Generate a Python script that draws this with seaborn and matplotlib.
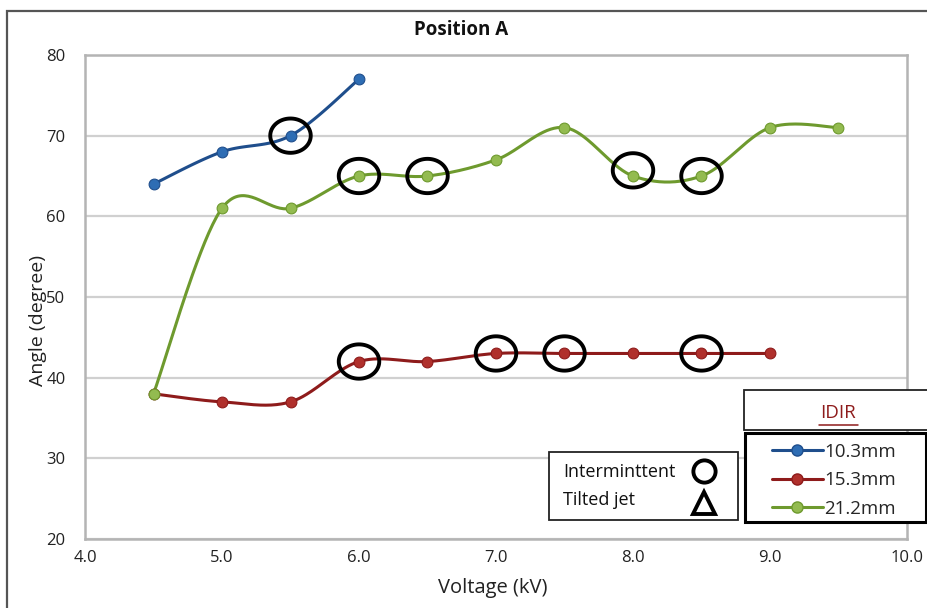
import numpy as np
import pandas as pd
import matplotlib
matplotlib.use("Agg")
import matplotlib.pyplot as plt
import seaborn as sns
from matplotlib.path import Path
from matplotlib.patches import Rectangle
from matplotlib.lines import Line2D
from matplotlib.markers import MarkerStyle

# ---------------- data ----------------
v_103 = [4.5, 5.0, 5.5, 6.0]
a_103 = [64, 68, 70, 77]
v_153 = [4.5, 5.0, 5.5, 6.0, 6.5, 7.0, 7.5, 8.0, 8.5, 9.0]
a_153 = [38, 37, 37, 42, 42, 43, 43, 43, 43, 43]
v_212 = [4.5, 5.0, 5.5, 6.0, 6.5, 7.0, 7.5, 8.0, 8.5, 9.0, 9.5]
a_212 = [38, 61, 61, 65, 65, 67, 71, 65, 65, 71, 71]
series_names = ["10.3mm", "15.3mm", "21.2mm"]
# intermittent markers (voltage, angle)
int_v = [5.5, 6.0, 6.5, 8.0, 8.5, 6.0, 7.0, 7.5, 8.5]
int_a = [70, 65, 65, 65.7, 65, 42, 43, 43, 43]
x_ticks = [4.0, 5.0, 6.0, 7.0, 8.0, 9.0, 10.0]
y_ticks = [20, 30, 40, 50, 60, 70, 80]

line_cols = ["#1F4E8C", "#8E1B1B", "#6E9A2E"]
mark_cols = ["#2E6DB4", "#B0302C", "#93BB50"]
edge_cols = ["#1F4E8C", "#8E1B1B", "#6E9A2E"]

sns.set_theme(style="white")
plt.rcParams["font.family"] = ["Open Sans", "DejaVu Sans"]

fig = plt.figure(figsize=(9.28, 6.08), dpi=100)
W, H = 928, 608
ax = fig.add_axes([85 / W, 1 - 539 / H, (907 - 85) / W, (539 - 55) / H])


def excel_smooth(x, y, n=40):
    x = np.asarray(x, float)
    y = np.asarray(y, float)
    P = np.column_stack([x, y])
    m = len(P)
    out = []
    for i in range(m - 1):
        p0 = P[i - 1] if i > 0 else P[i]
        p1 = P[i]
        p2 = P[i + 1]
        p3 = P[i + 2] if i + 2 < m else P[i + 1]
        c1 = p1 + (p2 - p0) / 6.0
        c2 = p2 - (p3 - p1) / 6.0
        t = np.linspace(0, 1, n)[:, None]
        seg = ((1 - t) ** 3) * p1 + 3 * ((1 - t) ** 2) * t * c1 + 3 * (1 - t) * t ** 2 * c2 + t ** 3 * p2
        out.append(seg if i == 0 else seg[1:])
    out = np.vstack(out)
    return out[:, 0], out[:, 1]


frames = []
for name, vx, vy in zip(series_names, [v_103, v_153, v_212], [a_103, a_153, a_212]):
    frames.append(pd.DataFrame({"Voltage": vx, "Angle": vy, "IDIR": name}))
df = pd.concat(frames, ignore_index=True)

for k, name in enumerate(series_names):
    sub = df[df.IDIR == name]
    sx, sy = excel_smooth(sub.Voltage.values, sub.Angle.values)
    ax.plot(sx, sy, color=line_cols[k], lw=2.2, zorder=3, solid_capstyle="round")
    sns.scatterplot(data=sub, x="Voltage", y="Angle", ax=ax, color=mark_cols[k],
                    edgecolor=edge_cols[k], linewidth=0.8, s=60, zorder=4, legend=False)

# ellipse marker for intermittent
th = np.linspace(0, 2 * np.pi, 80)
ell = Path(np.column_stack([1.18 * np.cos(th), np.sin(th)]), closed=True)
ax.scatter(int_v, int_a, marker=MarkerStyle(ell), s=850, facecolors="none",
           edgecolors="black", linewidths=2.8, zorder=5)

ax.set_xlim(4.0, 10.0)
ax.set_ylim(20, 80)
ax.set_xticks(x_ticks)
ax.set_yticks(y_ticks)
ax.set_xticklabels([f"{t:.1f}" for t in x_ticks], fontsize=12, color="#222222")
ax.set_yticklabels([str(t) for t in y_ticks], fontsize=12, color="#222222")
ax.tick_params(axis="x", pad=8, length=0)
ax.tick_params(axis="y", pad=14, length=0)
ax.grid(axis="y", color="#d0d0d0", lw=1.6)
ax.set_axisbelow(True)
for s in ax.spines.values():
    s.set_color("#b4b4b4")
    s.set_linewidth(1.8)
ax.set_xlabel("")
ax.set_ylabel("")

fig.text(493 / W, 1 - 588 / H, "Voltage (kV)", ha="center", va="center", fontsize=14.5, color="#222222")
fig.text(38 / W, 1 - 321 / H, "Angle (degree)", ha="center", va="center", rotation=90, fontsize=14, color="#222222")
fig.text(461 / W, 1 - 30 / H, "Position A", ha="center", va="center", fontsize=13.5, fontweight="bold", color="#111111")

# outer chart frame
fig.patches.append(Rectangle((7 / W, -0.1), 1.2, 1 - 11 / H + 0.1, transform=fig.transFigure,
                             fill=False, edgecolor="#555555", lw=1.6, zorder=0))

# IDIR title box
fig.patches.append(Rectangle((744 / W, 1 - 430 / H), 0.3, (430 - 390) / H, transform=fig.transFigure,
                             facecolor="white", edgecolor="#222222", lw=1.3, zorder=6))
fig.text(838 / W, 1 - 413 / H, "IDIR", ha="center", va="center", fontsize=13.5, color="#8E1B1B", zorder=7)
fig.add_artist(Line2D([819 / W, 858 / W], [1 - 425 / H, 1 - 425 / H], color="#8E1B1B", lw=1.1, zorder=7))

# series legend frame
fig.patches.append(Rectangle((745 / W, 1 - 522 / H), (926 - 745) / W, (522 - 433) / H,
                             transform=fig.transFigure, facecolor="white", edgecolor="black",
                             lw=2.2, zorder=6))
handles = [Line2D([0], [0], color=line_cols[k], lw=2.2, marker="o", markersize=8,
                  markerfacecolor=mark_cols[k], markeredgecolor=edge_cols[k]) for k in range(3)]
leg = fig.legend(handles, series_names, loc="upper left",
                 bbox_to_anchor=(772 / W, 1 - 443 / H), bbox_transform=fig.transFigure,
                 frameon=False, fontsize=13.5, handlelength=2.7,
                 handletextpad=0.1, borderpad=0.0, labelspacing=0.55, borderaxespad=0)
leg.set_zorder(8)

# intermittent / tilted box
fig.patches.append(Rectangle((549 / W, 1 - 520 / H), (738 - 549) / W, (520 - 452) / H,
                             transform=fig.transFigure, facecolor="white", edgecolor="#222222",
                             lw=1.3, zorder=6))
fig.text(563 / W, 1 - 472 / H, "Interminttent", ha="left", va="center", fontsize=13, color="#111111", zorder=7)
fig.text(563 / W, 1 - 500 / H, "Tilted jet", ha="left", va="center", fontsize=13, color="#111111", zorder=7)
fig.add_artist(Line2D([704 / W], [1 - 471 / H], marker="o", markersize=16, markerfacecolor="none",
                      markeredgecolor="black", markeredgewidth=2.8, zorder=7))
fig.add_artist(Line2D([704 / W], [1 - 503 / H], marker="^", markersize=16, markerfacecolor="none",
                      markeredgecolor="black", markeredgewidth=2.8, zorder=7))

fig.savefig("out.png", dpi=100)
